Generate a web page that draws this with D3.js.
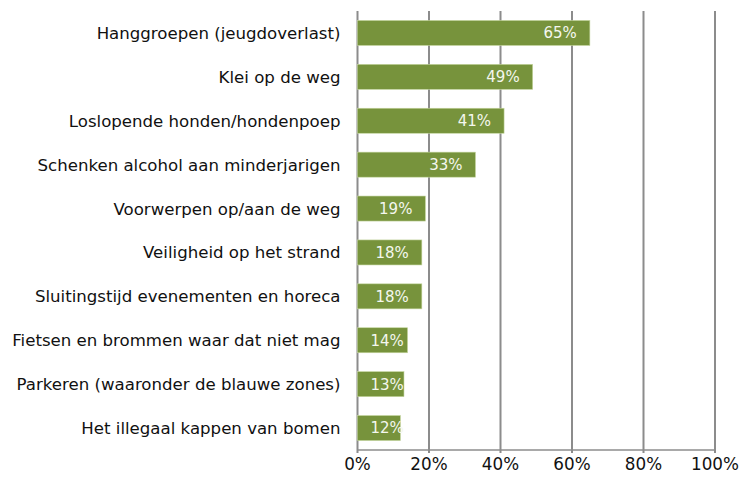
<!DOCTYPE html>
<html><head><meta charset="utf-8">
<script src="https://cdn.jsdelivr.net/npm/d3@7"></script>
<style>body{margin:0;background:#fff}svg{display:block}</style>
</head><body>
<script>
const categories = [
  "Hanggroepen (jeugdoverlast)",
  "Klei op de weg",
  "Loslopende honden/hondenpoep",
  "Schenken alcohol aan minderjarigen",
  "Voorwerpen op/aan de weg",
  "Veiligheid op het strand",
  "Sluitingstijd evenementen en horeca",
  "Fietsen en brommen waar dat niet mag",
  "Parkeren (waaronder de blauwe zones)",
  "Het illegaal kappen van bomen"
];
const values = [65, 49, 41, 33, 19, 18, 18, 14, 13, 12];
const ticks = [0, 20, 40, 60, 80, 100];

const W = 742, H = 477;
const m = {left: 357.5, right: 27, top: 11, bottom: 27};
const svg = d3.select("body").append("svg").attr("width", W).attr("height", H);
const font = "DejaVu Sans, Verdana, sans-serif";

const x = d3.scaleLinear().domain([0, 100]).range([m.left, W - m.right]);
const y = d3.scaleBand().domain(categories).range([m.top, H - m.bottom]).paddingInner(0.43).paddingOuter(0.215);

// gridlines
svg.append("g").selectAll("line").data(ticks).join("line")
  .attr("x1", d => x(d)).attr("x2", d => x(d))
  .attr("y1", m.top).attr("y2", H - m.bottom + 3)
  .attr("stroke", "#8c8c8c").attr("stroke-width", 2);

// bottom axis line
svg.append("line").attr("x1", x(0)).attr("x2", x(100))
  .attr("y1", H - m.bottom).attr("y2", H - m.bottom)
  .attr("stroke", "#8c8c8c").attr("stroke-width", 1.5);

// bars
svg.append("g").selectAll("rect").data(values).join("rect")
  .attr("x", x(0)).attr("y", (d, i) => y(categories[i]))
  .attr("width", d => x(d) - x(0)).attr("height", y.bandwidth())
  .attr("fill", "#77933c").attr("stroke", "#c5d6a0").attr("stroke-width", 0.6);

// data labels
svg.append("g").selectAll("text").data(values).join("text")
  .each(function(d, i) {
    const t = d3.select(this);
    t.text(d + "%").attr("font-family", font).attr("font-size", 15).attr("fill", "#f4f7ee")
     .attr("y", y(categories[i]) + y.bandwidth() / 2).attr("dy", "0.36em");
    const w = this.getComputedTextLength();
    let end = x(d) - 13;
    if (end - w < x(0) + 13) end = x(0) + 13 + w;
    t.attr("x", end).attr("text-anchor", "end");
  });

// category labels
svg.append("g").selectAll("text").data(categories).join("text")
  .attr("x", x(0) - 17).attr("y", d => y(d) + y.bandwidth() / 2).attr("dy", "0.36em")
  .attr("text-anchor", "end").attr("font-family", font).attr("font-size", 16.6).attr("fill", "#111")
  .text(d => d);

// tick labels
svg.append("g").selectAll("text").data(ticks).join("text")
  .attr("x", d => x(d)).attr("y", H - 7)
  .attr("text-anchor", "middle").attr("font-family", font).attr("font-size", 16.8).attr("fill", "#111")
  .text(d => d + "%");
</script>
</body></html>
